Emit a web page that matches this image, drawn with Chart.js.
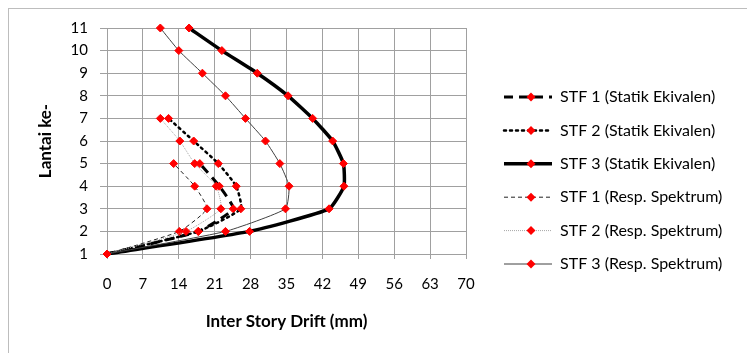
<!DOCTYPE html>
<html>
<head>
<meta charset="utf-8">
<script src="https://cdn.jsdelivr.net/npm/chart.js@4"></script>
<style>
  html, body { margin: 0; padding: 0; background: #fff; }
  #wrap { position: relative; width: 747px; height: 353px; overflow: hidden; }
  #frame { position: absolute; left: 8px; top: 8px; width: 800px; height: 400px; border: 1px solid #bdbdbd; box-sizing: border-box; }
  canvas { position: absolute; left: 0; top: 0; }
</style>
</head>
<body>
<div id="wrap">
  <div id="frame"></div>
  <canvas id="driftChart" width="747" height="353"></canvas>
</div>
<script>
// floor numbers (lantai ke-) and drift values in mm
const floors = [1, 2, 3, 4, 5, 6, 7, 8, 9, 10, 11];
const stf1Statik = [0, 17.8, 24.6, 21.9, 18.1];
const stf2Statik = [0, 17.8, 26.1, 25.2, 21.7, 16.9, 12.0];
const stf3Statik = [0, 27.8, 43.3, 46.2, 46.1, 44.0, 40.1, 35.3, 29.3, 22.4, 16.0];
const stf1Resp = [0, 14.1, 19.5, 17.1, 13.0];
const stf2Resp = [0, 15.4, 22.2, 21.3, 17.1, 14.2, 10.4];
const stf3Resp = [0, 23.1, 34.8, 35.5, 33.7, 30.9, 27.0, 23.1, 18.6, 14.0, 10.4];
const seriesLabels = [
  "STF 1 (Statik Ekivalen)",
  "STF 2 (Statik Ekivalen)",
  "STF 3 (Statik Ekivalen)",
  "STF 1 (Resp. Spektrum)",
  "STF 2 (Resp. Spektrum)",
  "STF 3 (Resp. Spektrum)",
];
const xTicks = [0, 7, 14, 21, 28, 35, 42, 49, 56, 63, 70];

function toPoints(values) {
  return values.map((v, i) => ({ x: v, y: floors[i] }));
}

const styles = [
  { color: "#000", width: 3, dash: [9, 6] },
  { color: "#000", width: 2.5, dash: [2, 4], cap: "round" },
  { color: "#000", width: 3.5, dash: [] },
  { color: "#222", width: 1, dash: [4, 3] },
  { color: "#a6a6a6", width: 1, dash: [1, 1] },
  { color: "#404040", width: 1, dash: [] },
];

const allValues = [stf1Statik, stf2Statik, stf3Statik, stf1Resp, stf2Resp, stf3Resp];

const datasets = allValues.map((vals, i) => ({
  label: seriesLabels[i],
  data: toPoints(vals),
  borderColor: styles[i].color,
  borderWidth: styles[i].width,
  borderDash: styles[i].dash,
  borderCapStyle: styles[i].cap || "butt",
  tension: 0.15,
  pointStyle: "rectRot",
  pointRadius: 4,
  pointHoverRadius: 4,
  pointBackgroundColor: "#ff0000",
  pointBorderColor: "#ff0000",
  pointBorderWidth: 1,
  clip: false,
  order: 5 - i,
}));

const legendPlugin = {
  id: "sideLegend",
  afterDraw(chart) {
    const ctx = chart.ctx;
    ctx.save();
    chart.data.datasets.forEach((ds, i) => {
      const y = 97 + i * 33.4;
      ctx.beginPath();
      ctx.strokeStyle = ds.borderColor;
      ctx.lineWidth = ds.borderWidth;
      ctx.setLineDash(ds.borderDash);
      ctx.lineCap = ds.borderCapStyle;
      ctx.moveTo(504, y);
      ctx.lineTo(552, y);
      ctx.stroke();
      ctx.setLineDash([]);
      ctx.fillStyle = "#ff0000";
      ctx.beginPath();
      ctx.moveTo(531, y - 4.5);
      ctx.lineTo(535.5, y);
      ctx.lineTo(531, y + 4.5);
      ctx.lineTo(526.5, y);
      ctx.closePath();
      ctx.fill();
      ctx.fillStyle = "#000";
      ctx.font = "16px Lato";
      ctx.textBaseline = "middle";
      ctx.textAlign = "left";
      ctx.fillText(ds.label, 560, y);
    });
    ctx.restore();
  },
};

new Chart(document.getElementById("driftChart"), {
  type: "line",
  data: { datasets: datasets },
  plugins: [legendPlugin],
  options: {
    responsive: false,
    animation: false,
    events: [],
    layout: { padding: { left: 31, top: 28, right: 281, bottom: 17 } },
    plugins: {
      legend: { display: false },
      tooltip: { enabled: false },
    },
    scales: {
      x: {
        type: "linear",
        min: 0,
        max: 70,
        afterBuildTicks: (scale) => {
          scale.ticks = xTicks.map((v) => ({ value: v }));
        },
        afterFit: (scale) => {
          scale.height = 82;
        },
        grid: { color: "#a0a0a0", lineWidth: 1, tickLength: 5 },
        border: { color: "#a0a0a0" },
        ticks: { color: "#000", font: { family: "Lato", size: 15 }, padding: 16, maxRotation: 0 },
        title: {
          display: true,
          text: "Inter Story Drift (mm)",
          color: "#000",
          font: { family: "Lato", size: 17, weight: "bold" },
          padding: { top: 4, bottom: 4 },
        },
      },
      y: {
        type: "linear",
        min: 1,
        max: 11,
        ticks: { stepSize: 1, color: "#000", font: { family: "Lato", size: 15 }, padding: 12 },
        afterFit: (scale) => {
          scale.width = 76;
        },
        grid: { color: "#a0a0a0", lineWidth: 1, tickLength: 7 },
        border: { color: "#a0a0a0" },
        title: {
          display: true,
          text: "Lantai ke-",
          color: "#000",
          font: { family: "Lato", size: 17, weight: "bold" },
          padding: { top: 4, bottom: 4 },
        },
      },
    },
  },
});
</script>
</body>
</html>
